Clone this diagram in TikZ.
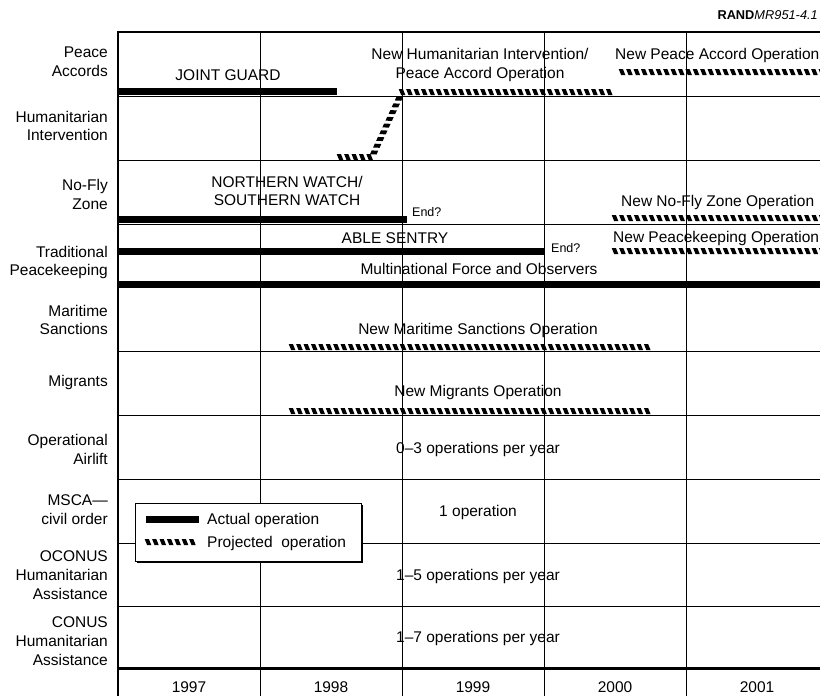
\documentclass[tikz,border=0pt]{standalone}
\usepackage{fontspec}
\setmainfont{Liberation Sans}
\usetikzlibrary{decorations.markings}
\tikzset{
    lbl/.style={font=\fontsize{15.5}{18.7}\selectfont, inner sep=0pt, align=center},
    rowlbl/.style={lbl, align=right, anchor=east},
    leftlbl/.style={lbl, anchor=west},
    endlbl/.style={font=\fontsize{12.5}{14}\selectfont, inner sep=0pt, anchor=west},
    gridline/.style={line width=0.8pt},
    actual/.style={line width=7pt},
    projected/.style={postaction={decorate}, decoration={markings,
        mark=between positions 0 and 1 step 7.4pt with {\fill (-3.3pt,3pt) -- (0.9pt,3pt) -- (3.3pt,-3pt) -- (-0.9pt,-3pt) -- cycle;}}},
}
\begin{document}
\begin{tikzpicture}[x=1pt,y=-1pt]
    \useasboundingbox (0,0) rectangle (820,696);
    \node[endlbl, anchor=east, font=\fontsize{12.8}{14}\selectfont] (rand) at (818,15) {\textbf{RAND}\textit{MR951-4.1}};

    \foreach \y in {96,160,224,351,415,479,543,606}
        \draw[gridline] (118,\y) -- (820,\y);
    \foreach \x in {260,402,544,686}
        \draw[gridline] (\x,32) -- (\x,696);
    \draw[line width=2pt] (118,32) -- (820,32);
    \draw[line width=3pt] (118,668) -- (820,668);
    \draw[line width=2.5pt] (118,31) -- (118,696);

    \foreach \yr [count=\i from 0] in {1997,1998,1999,2000,2001}
        \node[lbl] (yr\yr) at (189+142*\i,687) {\yr};

    \node[rowlbl] (peace) at (108,62) {Peace\\Accords};
    \node[rowlbl] (human) at (108,126) {Humanitarian\\Intervention};
    \node[rowlbl] (nofly) at (108,194.5) {No-Fly\\Zone};
    \node[rowlbl] (trad) at (108,262.5) {Traditional\\Peacekeeping};
    \node[rowlbl] (mari) at (108,320) {Maritime\\Sanctions};
    \node[rowlbl] (migr) at (108,382) {Migrants};
    \node[rowlbl] (airl) at (108,449.5) {Operational\\Airlift};
    \node[rowlbl] (msca) at (108,510) {MSCA---\\civil order};
    \node[rowlbl] (ocon) at (108,575) {OCONUS\\Humanitarian\\Assistance};
    \node[rowlbl] (conus) at (108,641) {CONUS\\Humanitarian\\Assistance};

    \draw[actual] (118,91.5) -- (337,91.5);
    \node[lbl] (jg) at (228,75) {JOINT GUARD};
    \path[projected] (340,157) -- (372,157) -- (402,92) -- (610,92);
    \node[lbl] (nhi) at (480,65) {New Humanitarian Intervention/\\Peace Accord Operation};
    \path[projected] (622,72) -- (830,72);
    \node[leftlbl] (npa) at (615,55) {New Peace Accord Operation};

    \draw[actual] (118,219.5) -- (407,219.5);
    \node[lbl] (nw) at (287,191) {NORTHERN WATCH/\\SOUTHERN WATCH};
    \node[endlbl] (end1) at (412,212) {End?};
    \path[projected] (615,218) -- (830,218);
    \node[leftlbl] (nnf) at (621,202) {New No-Fly Zone Operation};

    \draw[actual] (118,251) -- (545,251);
    \node[lbl] (able) at (395,238) {ABLE SENTRY};
    \node[endlbl] (end2) at (551,248) {End?};
    \path[projected] (615,251) -- (830,251);
    \node[leftlbl] (npk) at (613,238) {New Peacekeeping Operation};
    \draw[actual] (118,284) -- (820,284);
    \node[lbl] (mfo) at (479,269) {Multinational Force and Observers};

    \path[projected] (292,347) -- (651,347);
    \node[lbl] (nms) at (478,330) {New Maritime Sanctions Operation};
    \path[projected] (292,411) -- (651,411);
    \node[lbl] (nmo) at (478,392) {New Migrants Operation};
    \node[lbl] (ops03) at (478,449) {0--3 operations per year};
    \node[lbl] (ops1) at (478,512) {1 operation};
    \node[lbl] (ops15) at (478,576) {1--5 operations per year};
    \node[lbl] (ops17) at (478,638) {1--7 operations per year};

    \fill (136.5,504.5) rectangle (362.5,562.5);
    \draw[gridline, fill=white] (135,503) rectangle (361,561);
    \draw[actual] (146,519.5) -- (199,519.5);
    \node[leftlbl] (legact) at (207,520) {Actual operation};
    \path[projected] (148,542) -- (197,542);
    \node[leftlbl] (legproj) at (207,543) {Projected\ \ operation};
\end{tikzpicture}
\end{document}
